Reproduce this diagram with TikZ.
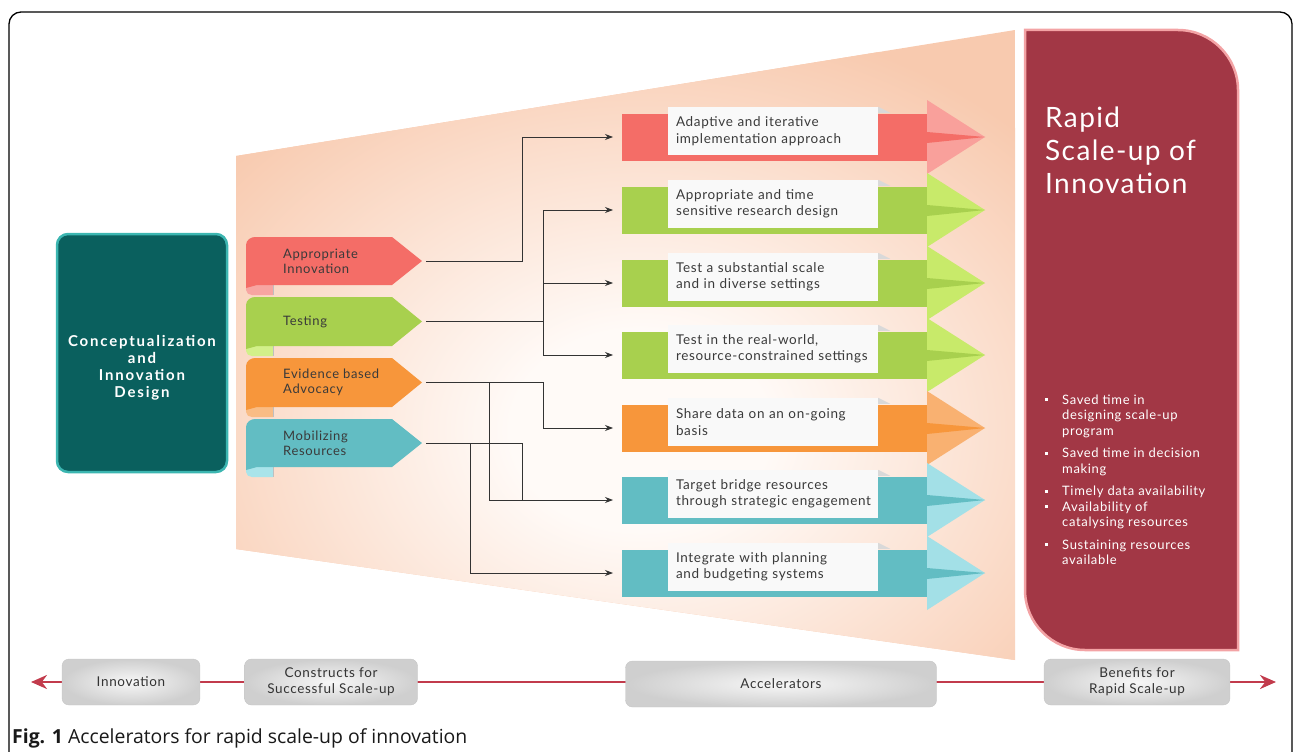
\documentclass[tikz,border=0pt]{standalone}
\usepackage{fontspec}
\setmainfont{Lato}[LetterSpace=5]
\newfontfamily\capfont{Open Sans}
\usetikzlibrary{arrows.meta}

\definecolor{funnelin}{HTML}{FFFAF7}
\definecolor{funnelout}{HTML}{F8CAAF}
\definecolor{redband}{HTML}{F46D67}
\definecolor{redhead}{HTML}{F9A09B}
\definecolor{redfold}{HTML}{F7A5A1}
\definecolor{greenband}{HTML}{A8D04E}
\definecolor{greenhead}{HTML}{C8EA6A}
\definecolor{greenfold}{HTML}{D2F08A}
\definecolor{orangeband}{HTML}{F7963B}
\definecolor{orangehead}{HTML}{F9B171}
\definecolor{orangefold}{HTML}{F9BC84}
\definecolor{tealband}{HTML}{62BDC3}
\definecolor{tealhead}{HTML}{A3E0E7}
\definecolor{tealfold}{HTML}{A9E4EA}
\definecolor{conceptfill}{HTML}{0A605E}
\definecolor{conceptline}{HTML}{3CB6B1}
\definecolor{maroon}{HTML}{A23745}
\definecolor{maroonline}{HTML}{F3A3A5}
\definecolor{timered}{HTML}{C23B4C}
\definecolor{boxtext}{HTML}{3A3A3A}

\pgfdeclareradialshading{funnelglow}{\pgfpoint{0bp}{0bp}}{color(0bp)=(funnelin); color(6bp)=(funnelin); color(25bp)=(funnelout); color(50bp)=(funnelout)}

\tikzset{
  textbox/.style={fill=gray!5, minimum width=210, minimum height=48, text width=194,
    inner xsep=8, inner ysep=0, align=left, text=boxtext, font=\fontsize{13.5}{16.5}\selectfont},
  ribtext/.style={anchor=west, align=left, inner sep=0, text=boxtext, font=\fontsize{13}{15}\selectfont},
  connline/.style={draw=black!80, line width=0.8},
  conn/.style={connline, -{Stealth[length=8pt,width=6pt]}},
  phase/.style={rounded corners=7, inner color=gray!6, outer color=gray!38, draw=gray!45,
    line width=0.4, minimum height=46, align=center, text=black!80, font=\fontsize{13.5}{16}\selectfont},
}

% ribbon on the left: top, bottom, colour, fold colour, name, text
\newcommand{\ribbon}[6]{%
  \fill[#4] (246,#2-8) -- (246,#2+5) .. controls (246,#2+8) and (249,#2+10) .. (252,#2+10) -- (273,#2+10) -- (273,#2-8) -- cycle;
  \draw[black!25, line width=0.8] (273,#2) -- (273,#2+10);
  \fill[#3] (246,#2+3) -- (246,#1+8) .. controls (246,#1+3) and (251,#1) .. (255,#1) -- (392,#1)
    -- (422,{(#1+#2)/2}) -- (392,#2) -- (257,#2) -- cycle;
  \node[ribtext] (#5) at (283,{(#1+#2)/2}) {#6};
  \coordinate (#5-tip) at (426,{(#1+#2)/2});
}

% band arrow on the right: centre, band colour, head colour, name, first line, second line
\newcommand{\band}[6]{%
  \fill[#2] (622,#1-23) rectangle (928,#1+24);
  \fill[#3] (927,#1-37) -- (985,#1) -- (927,#1+37) -- cycle;
  \fill[#2] (927,#1-5) -- (985,#1) -- (927,#1+6) -- cycle;
  \node[textbox] (#4) at (773,#1-6) {\mbox{#5}\\\mbox{#6}};
  \fill[black!15] (#4.north east) -- ++(12,6) -- ++(-12,0) -- cycle;
  \coordinate (#4-in) at (613,#1);
}

\newcommand{\bul}{\rule[3pt]{3pt}{3pt}}

\begin{document}
\begin{tikzpicture}[x=1pt,y=-1pt]
    \useasboundingbox (0,0) rectangle (1298,752);
    % Frame
    \draw[line width=1.3, rounded corners=12] (9,752) -- (9,12) -- (1292,12) -- (1292,752);
    % Funnel
    \begin{scope}
      \clip (236,156) -- (1015,30) -- (1015,660) -- (236,549) -- cycle;
      \fill[funnelout] (236,30) rectangle (1015,660);
      \shade[shading=funnelglow] (640,430) ellipse (540 and 420);
    \end{scope}

    % Concept box
    \node[draw=conceptline, line width=2.5, fill=conceptfill, rounded corners=11,
      minimum width=170, minimum height=238] (concept) at (142,353) {};
    \node[text=white, align=center, inner sep=0, font=\bfseries\fontsize{15}{17}\selectfont\addfontfeature{LetterSpace=12}]
      (conceptlabel) at (142,368) {Conceptualization\\and\\Innovation\\Design};

    % Ribbons
    \ribbon{237}{285}{redband}{redfold}{appinn}{Appropriate\\Innovation}
    \ribbon{297}{346}{greenband}{greenfold}{testing}{Testing}
    \ribbon{358}{407}{orangeband}{orangefold}{advocacy}{Evidence based\\Advocacy}
    \ribbon{419}{467}{tealband}{tealfold}{resources}{Mobilizing\\Resources}

    % Accelerator arrows
    \band{137}{redband}{redhead}{adapt}{Adaptive and iterative}{implementation approach}
    \band{210}{greenband}{greenhead}{design}{Appropriate and time}{sensitive research design}
    \band{283}{greenband}{greenhead}{scale}{Test a substantial scale}{and in diverse settings}
    \band{355}{greenband}{greenhead}{realworld}{Test in the real-world,}{resource-constrained settings}
    \band{428}{orangeband}{orangehead}{share}{Share data on an on-going}{basis}
    \band{500}{tealband}{tealhead}{bridge}{Target bridge resources}{through strategic engagement}
    \band{573}{tealband}{tealhead}{budget}{Integrate with planning}{and budgeting systems}

    % Connectors
    \coordinate (j1) at (522,0);
    \coordinate (j2) at (543,0);
    \coordinate (j3) at (489,0);
    \coordinate (j4) at (470,0);
    \draw[conn] (appinn-tip) -| (j1 |- adapt-in) -- (adapt-in);
    \draw[conn] (testing-tip) -| (j2 |- design-in) -- (design-in);
    \draw[conn] (testing-tip) -| (j2 |- realworld-in) -- (realworld-in);
    \draw[conn] (j2 |- scale-in) -- (scale-in);
    \draw[conn] (advocacy-tip) -| (j2 |- share-in) -- (share-in);
    \draw[conn] (advocacy-tip -| j3) |- (bridge-in);
    \draw[connline] (resources-tip) -| (j1 |- bridge-in);
    \draw[conn] (resources-tip -| j4) |- (budget-in);

    % Benefits panel
    \filldraw[fill=maroon, draw=maroonline, line width=2.5] (1025,30) -- (1178,30)
      .. controls (1211,30) and (1238,57) .. (1238,90) -- (1238,650) -- (1085,650)
      .. controls (1052,650) and (1025,623) .. (1025,590) -- cycle;
    \node[anchor=north west, inner sep=0, align=left, text=white, font=\fontsize{28}{33}\selectfont]
      (title) at (1045,107) {Rapid\\Scale-up of\\Innovation};
    \node[anchor=north west, inner sep=0, text=white, font=\fontsize{13}{15.5}\selectfont] (gains) at (1045,393) {%
      \begin{tabular}{@{}l@{\hspace{14pt}}l@{}}
        \bul & Saved time in\\
             & designing scale-up\\
             & program\\[7pt]
        \bul & Saved time in decision\\
             & making\\[7pt]
        \bul & Timely data availability\\
        \bul & Availability of\\
             & catalysing resources\\[7pt]
        \bul & Sustaining resources\\
             & available
      \end{tabular}};

    % Timeline
    \coordinate (tl) at (31,682);
    \coordinate (tr) at (1276,682);
    \draw[timered, line width=2.5, {Stealth[length=16pt,width=14pt]}-{Stealth[length=16pt,width=14pt]}] (tl) -- (tr);
    \node[phase, minimum width=138] (innov) at (131,682) {Innovation};
    \node[phase, minimum width=173] (constr) at (331,682) {Constructs for\\Successful Scale-up};
    \node[phase, minimum width=311] (accel) at (781,684) {Accelerators};
    \node[phase, minimum width=186] (benef) at (1137,682) {Benefits for\\Rapid Scale-up};

    % Caption
    \node[anchor=base west, inner sep=0, text=black!90] (caption) at (12,743)
      {\capfont\fontsize{19.4}{22}\selectfont\textbf{Fig. 1} Accelerators for rapid scale-up of innovation};
\end{tikzpicture}
\end{document}
